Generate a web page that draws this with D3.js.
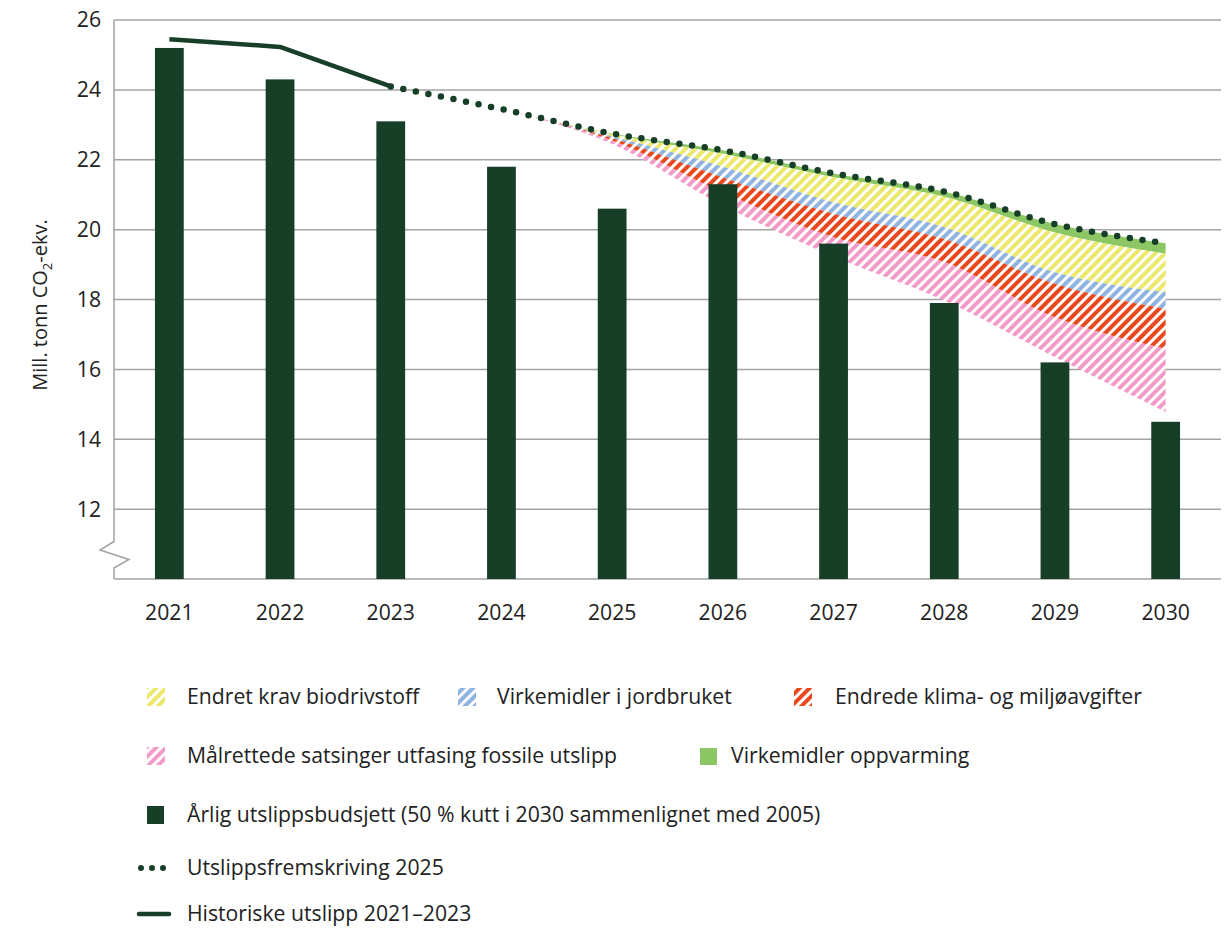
<!DOCTYPE html>
<html>
<head>
<meta charset="utf-8">
<script src="https://cdn.jsdelivr.net/npm/d3@7"></script>
<style>
  html, body { margin: 0; padding: 0; background: #fff; }
  svg { display: block; font-family: 'Open Sans', sans-serif; }
</style>
</head>
<body>
<div id="vis"></div>
<script>
// Years on the x axis
var years = [2021, 2022, 2023, 2024, 2025, 2026, 2027, 2028, 2029, 2030];

// Årlig utslippsbudsjett (bars)
var budget = [25.2, 24.3, 23.1, 21.8, 20.6, 21.3, 19.6, 17.9, 16.2, 14.5];

// Historiske utslipp 2021–2023
var histYears = [2021, 2022, 2023];
var histValues = [25.45, 25.23, 24.1];

// Utslippsfremskriving 2025 (dotted)
var projYears = [2023, 2024, 2025, 2026, 2027, 2028, 2029, 2030];
var projValues = [24.1, 23.45, 22.75, 22.27, 21.61, 21.09, 20.16, 19.61];

// Effects stacked downwards from the projection, 2024–2030 (top layer first)
var effectYears = [2024, 2025, 2026, 2027, 2028, 2029, 2030];
var oppvarming = [0, 0.02, 0.10, 0.11, 0.15, 0.24, 0.30];
var biodrivstoff = [0, 0.06, 0.37, 0.72, 0.87, 1.14, 1.10];
var jordbruket = [0, 0.05, 0.31, 0.33, 0.34, 0.33, 0.48];
var avgifter = [0, 0.07, 0.43, 0.67, 0.66, 0.96, 1.14];
var maalrettede = [0, 0.10, 0.37, 0.55, 1.10, 1.14, 1.81];

var yTicks = [12, 14, 16, 18, 20, 22, 24, 26];

var width = 1229, height = 937;
var dark = "#173f28";
var gridColor = "#a3a3a3";
var fs = 21.2;

var layers = [
    { key: "oppvarming", values: oppvarming, color: "#8cc665", hatch: false },
    { key: "biodrivstoff", values: biodrivstoff, color: "#ece86c", hatch: true },
    { key: "jordbruket", values: jordbruket, color: "#8fb4e2", hatch: true },
    { key: "avgifter", values: avgifter, color: "#e8481c", hatch: true },
    { key: "maalrettede", values: maalrettede, color: "#f39bc8", hatch: true }
];

var svg = d3.select("#vis").append("svg")
    .attr("width", width)
    .attr("height", height);

var defs = svg.append("defs");
layers.forEach(function (l) {
    var p = defs.append("pattern")
        .attr("id", "hatch-" + l.key)
        .attr("patternUnits", "userSpaceOnUse")
        .attr("width", 7)
        .attr("height", 7)
        .attr("patternTransform", "rotate(45)");
    p.append("rect").attr("width", 7).attr("height", 7).attr("fill", "#fff");
    p.append("rect").attr("width", 4).attr("height", 7).attr("fill", l.color);
});

var x = d3.scaleBand()
    .domain(years)
    .range([114, 1221])
    .paddingInner(0.74)
    .paddingOuter(0.37);

var y = d3.scaleLinear()
    .domain([10, 26])
    .range([579, 20]);

function cx(yr) { return x(yr) + x.bandwidth() / 2; }

// gridlines
svg.append("g")
    .selectAll("line")
    .data(yTicks)
    .join("line")
    .attr("x1", 114)
    .attr("x2", 1221)
    .attr("y1", function (d) { return y(d); })
    .attr("y2", function (d) { return y(d); })
    .attr("stroke", gridColor)
    .attr("stroke-width", 1.5);

// y tick labels
svg.append("g")
    .selectAll("text")
    .data(yTicks)
    .join("text")
    .attr("x", 101)
    .attr("y", function (d) { return y(d); })
    .attr("dy", "0.35em")
    .attr("text-anchor", "end")
    .attr("font-size", fs)
    .attr("fill", "#222")
    .text(function (d) { return d; });

// y axis with break
var yb = y(10);
svg.append("path")
    .attr("d", "M114," + y(26) + "V541.5L100,550L129,559.5L114,568V" + yb)
    .attr("fill", "none")
    .attr("stroke", gridColor)
    .attr("stroke-width", 1.5);

// x axis line
svg.append("line")
    .attr("x1", 114).attr("x2", 1221)
    .attr("y1", yb).attr("y2", yb)
    .attr("stroke", gridColor)
    .attr("stroke-width", 1.5);

// x labels
svg.append("g")
    .selectAll("text")
    .data(years)
    .join("text")
    .attr("x", function (d) { return cx(d); })
    .attr("y", 613)
    .attr("dy", "0.35em")
    .attr("text-anchor", "middle")
    .attr("font-size", fs)
    .attr("fill", "#222")
    .text(function (d) { return d; });

// y axis title
var yt = svg.append("text")
    .attr("transform", "translate(47,305) rotate(-90)")
    .attr("text-anchor", "middle")
    .attr("font-size", 20)
    .attr("fill", "#222");
yt.append("tspan").text("Mill. tonn CO");
yt.append("tspan").attr("font-size", 13).attr("dy", 5).text("2");
yt.append("tspan").attr("dy", -5).text("-ekv.");

// stacked effect areas
var stacked = [];
var cum = effectYears.map(function () { return 0; });
layers.forEach(function (l) {
    var pts = effectYears.map(function (yr, i) {
        var top = projValues[projYears.indexOf(yr)] - cum[i];
        cum[i] += l.values[i];
        return { year: yr, top: top, bottom: top - l.values[i] };
    });
    stacked.push({ layer: l, pts: pts });
});

var area = d3.area()
    .x(function (d) { return cx(d.year); })
    .y0(function (d) { return y(d.bottom); })
    .y1(function (d) { return y(d.top); })
    .curve(d3.curveMonotoneX);

svg.append("g")
    .selectAll("path")
    .data(stacked)
    .join("path")
    .attr("d", function (d) { return area(d.pts); })
    .attr("fill", function (d) {
        return d.layer.hatch ? "url(#hatch-" + d.layer.key + ")" : d.layer.color;
    });

// bars
svg.append("g")
    .selectAll("rect")
    .data(years)
    .join("rect")
    .attr("x", function (d) { return x(d); })
    .attr("width", x.bandwidth())
    .attr("y", function (d, i) { return y(budget[i]); })
    .attr("height", function (d, i) { return yb - y(budget[i]); })
    .attr("fill", dark);

// historical line
var line = d3.line()
    .x(function (d) { return cx(d[0]); })
    .y(function (d) { return y(d[1]); });

svg.append("path")
    .attr("d", line(d3.zip(histYears, histValues)))
    .attr("fill", "none")
    .attr("stroke", dark)
    .attr("stroke-width", 4.5)
    .attr("stroke-linejoin", "round");

// projection dotted
svg.append("path")
    .attr("d", line.curve(d3.curveMonotoneX)(d3.zip(projYears, projValues)))
    .attr("fill", "none")
    .attr("stroke", dark)
    .attr("stroke-width", 6.5)
    .attr("stroke-linecap", "round")
    .attr("stroke-dasharray", "0 12.8");

// legend
var legend = svg.append("g").attr("font-size", fs).attr("fill", "#222");

function hatchSwatch(l, sx, sy) {
    legend.append("rect")
        .attr("x", sx).attr("y", sy - 9)
        .attr("width", 18).attr("height", 18)
        .attr("fill", l.hatch ? "url(#hatch-" + l.key + ")" : l.color);
}
function label(txt, tx, ty) {
    legend.append("text").attr("x", tx).attr("y", ty).attr("dy", "0.35em").text(txt);
}

var layerByKey = {};
layers.forEach(function (l) { layerByKey[l.key] = l; });

hatchSwatch(layerByKey.biodrivstoff, 147, 697);
label("Endret krav biodrivstoff", 187, 697);
hatchSwatch(layerByKey.jordbruket, 458, 697);
label("Virkemidler i jordbruket", 497, 697);
hatchSwatch(layerByKey.avgifter, 794, 697);
label("Endrede klima- og miljøavgifter", 835, 697);

hatchSwatch(layerByKey.maalrettede, 147, 756);
label("Målrettede satsinger utfasing fossile utslipp", 187, 756);
legend.append("rect").attr("x", 700).attr("y", 748).attr("width", 17).attr("height", 17)
    .attr("fill", layerByKey.oppvarming.color);
label("Virkemidler oppvarming", 731, 756);

legend.append("rect").attr("x", 147).attr("y", 806).attr("width", 17).attr("height", 18)
    .attr("fill", dark);
label("Årlig utslippsbudsjett (50 % kutt i 2030 sammenlignet med 2005)", 187, 815);

legend.append("line")
    .attr("x1", 141).attr("x2", 167).attr("y1", 868).attr("y2", 868)
    .attr("stroke", dark).attr("stroke-width", 6)
    .attr("stroke-linecap", "round").attr("stroke-dasharray", "0 11");
label("Utslippsfremskriving 2025", 187, 868);

legend.append("line")
    .attr("x1", 139).attr("x2", 169).attr("y1", 914).attr("y2", 914)
    .attr("stroke", dark).attr("stroke-width", 4.5)
    .attr("stroke-linecap", "round");
label("Historiske utslipp 2021–2023", 187, 914);
</script>
</body>
</html>
